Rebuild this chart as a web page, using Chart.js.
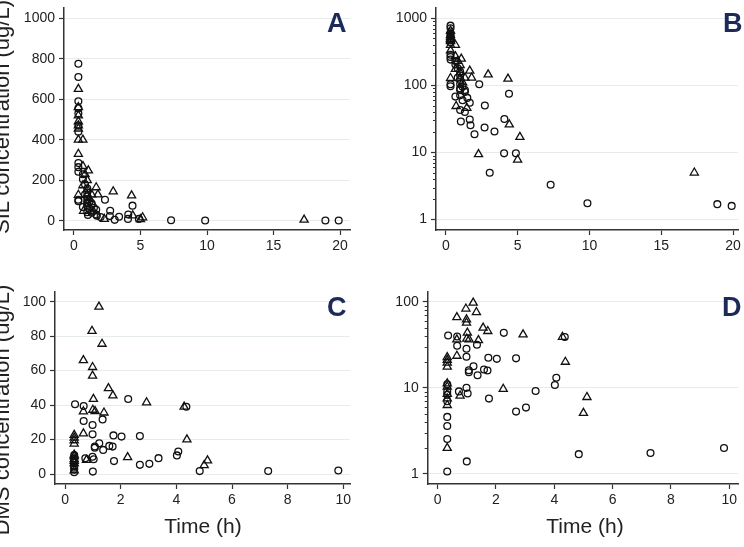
<!DOCTYPE html>
<html><head><meta charset="utf-8">
<script src="https://cdn.jsdelivr.net/npm/chart.js@4.4.1/dist/chart.umd.min.js"></script>
<style>
body{margin:0;background:#fff;width:744px;height:547px;overflow:hidden;position:relative;font-family:"Liberation Sans",Arial,sans-serif;}
.pan{position:absolute;}
.let{position:absolute;font-weight:bold;color:#1c2a57;font-size:27px;line-height:27px;white-space:nowrap;}
.yt{position:absolute;width:320px;height:24px;line-height:24px;text-align:center;font-size:22px;color:#222;transform:translate(-50%,-50%) rotate(-90deg);white-space:nowrap;}
.xt{position:absolute;font-size:21px;line-height:21px;color:#222;transform:translateX(-50%);white-space:nowrap;}
</style></head>
<body>
<div class="pan" style="left:0;top:0"><canvas id="cA" width="372" height="262"></canvas></div>
<div class="pan" style="left:372px;top:0"><canvas id="cB" width="372" height="262"></canvas></div>
<div class="pan" style="left:0;top:270px"><canvas id="cC" width="372" height="250"></canvas></div>
<div class="pan" style="left:372px;top:270px"><canvas id="cD" width="372" height="250"></canvas></div>
<div class="let" style="left:327px;top:10px">A</div>
<div class="let" style="left:723px;top:10px">B</div>
<div class="let" style="left:327px;top:294px">C</div>
<div class="let" style="left:722px;top:294px">D</div>
<div class="yt" style="left:2px;top:117px">SIL concentration (ug/L)</div>
<div class="yt" style="left:2px;top:410px">DMS concentration (ug/L)</div>
<div class="xt" style="left:203px;top:515px">Time (h)</div>
<div class="xt" style="left:585px;top:515px">Time (h)</div>
<script>
// SIL (panels A & B) — circles
const silCircTime = [0.33,0.33,0.33,0.33,0.33,0.33,0.33,0.33,0.33,0.33,0.33,0.33, 0.67,0.67,0.67, 0.83,0.83, 1.0,1.0,1.0,1.0,1.0,1.0,1.0,1.0,1.05, 1.17,1.17, 1.33,1.33,1.33, 1.5,1.67,1.67,1.72, 2.0,2.33,2.72,2.7,3.06,3.39,4.08,4.06,4.4,4.88, 7.3,9.86,18.9,19.9];
const silCircConc = [775,710,590,555,530,470,440,285,265,242,104,97, 230,205,68, 180,130, 160,140,120,105,90,85,71,43,29, 95,60, 85,80,40, 65,55,31,25.5, 18.7,104,50,23.6,5,20.5,31.5,9.7,75,9.7, 3.3,1.75,1.7,1.6];
// SIL — triangles
const silTriTime = [0.33,0.33,0.33,0.33,0.33,0.33,0.33,0.33,0.33, 0.67,0.67,0.67,0.72, 0.83,1.0,1.08,1.0,1.0,1.17, 1.33,1.47, 1.67,1.8, 2.28,2.95,4.33,4.42,5.0,5.16,17.3];
const silTriConc = [650,560,520,490,470,455,400,330,128, 400,270,175,49, 230,200,248,155,130,110, 130,46, 165,130, 9.4,145,125,26,7.8,17,5];
// DMS (panels C & D) — circles
const dmsCircTime = [0.36,0.33,0.33,0.33,0.33,0.33,0.33,0.33,0.33, 0.67,0.67,0.73, 0.99,0.99,0.99,1.03,1.0, 1.07,1.07,1.23,1.37,1.35, 1.59,1.71,1.74,1.76, 2.03,2.27,2.69,2.69,3.03,3.36, 4.02,4.07,4.36,4.84,7.3,9.82];
const dmsCircConc = [40.5,11,9,8.3,7,4.6,3.6,2.55,1.07, 39.5,30.8,9.1, 28.4,23,10,8.6,1.4, 16,15.2,17.8,14,31.7, 16.3,15.9,22.4,7.5, 21.7,43.5,22,5.3,5.9,9.2, 10.8,13.1,39,1.7,1.75,2.0];
// DMS — triangles
const dmsTriTime = [0.33,0.33,0.33,0.33,0.33,0.33,0.33,0.33,0.33,0.33, 0.66,0.66,0.66,0.77, 0.97,0.99,0.99,1.02,1.0,1.08,1.22,1.33,1.4, 1.56,1.72,2.25,2.93,4.28,4.38,5.0,5.12];
const dmsTriConc = [22.6,21,19.5,17.6,11.2,10.3,8.5,7.5,6.3,2.0, 66,36.3,23.5,8.1, 83,62,57,43.5,37.2,36.4,97,75.5,35.6, 49.7,45.5,9.7,41.5,39,20,5.1,7.8];
// tick labels
const xTicksSIL = [0,5,10,15,20];
const xTicksDMS = [0,2,4,6,8,10];
const yTicksA = [0,200,400,600,800,1000];
const yTicksB = [1,10,100,1000];
const yTicksC = [0,20,40,60,80,100];
const yTicksD = [1,10,100];

const FONT = '"Liberation Sans", Arial, sans-serif';
const pts = (t, c) => t.map((x, i) => ({x: x, y: c[i]}));

const minorTicks = {
  id: 'minorTicks',
  afterDraw(chart) {
    const s = chart.scales.y;
    if (s.type !== 'logarithmic') return;
    const ctx = chart.ctx;
    ctx.save();
    ctx.strokeStyle = '#333';
    ctx.lineWidth = 1;
    for (let d = 1; d <= 1000; d *= 10) {
      for (let k = 2; k <= 9; k++) {
        const v = d * k;
        if (v < s.min || v > s.max) continue;
        const y = Math.round(s.getPixelForValue(v)) + 0.5;
        ctx.beginPath();
        ctx.moveTo(s.right - 3, y);
        ctx.lineTo(s.right, y);
        ctx.stroke();
      }
    }
    ctx.restore();
  }
};

function makeChart(id, o) {
  new Chart(document.getElementById(id), {
    type: 'scatter',
    data: {
      datasets: [
        {data: pts(o.ct, o.cc), pointStyle: 'circle', pointRadius: 3.4, pointBorderWidth: 1.3,
         borderColor: '#111', backgroundColor: 'rgba(0,0,0,0)', showLine: false},
        {data: pts(o.tt, o.tc), pointStyle: 'triangle', pointRadius: 4.7, pointBorderWidth: 1.3,
         borderColor: '#111', backgroundColor: 'rgba(0,0,0,0)', showLine: false}
      ]
    },
    options: {
      responsive: false, animation: false, events: [],
      layout: {padding: {left: 0, top: o.T, right: o.R, bottom: 0}},
      plugins: {legend: {display: false}, tooltip: {enabled: false}},
      scales: {
        x: {
          type: 'linear', min: o.xmin, max: o.xmax,
          afterBuildTicks: s => { s.ticks = o.xticks.map(v => ({value: v})); },
          afterFit: s => { s.height = o.H; s.paddingLeft = 0; s.paddingRight = 0; },
          grid: {drawOnChartArea: false, tickLength: 5, tickColor: '#333', tickWidth: 1.2},
          border: {color: '#333', width: 1.5},
          ticks: {font: {family: FONT, size: 14}, color: '#222', padding: 3, maxRotation: 0, autoSkip: false}
        },
        y: {
          type: o.ytype, min: o.ymin, max: o.ymax,
          afterBuildTicks: s => { s.ticks = o.yticks.map(v => ({value: v})); },
          afterFit: s => { s.width = o.L; s.paddingTop = 0; s.paddingBottom = 0; },
          grid: {color: '#e6ebee', lineWidth: 1, tickLength: 5, tickColor: '#333', tickWidth: 1.2},
          border: {color: '#333', width: 1.5},
          ticks: {font: {family: FONT, size: 14}, color: '#222', padding: 4, autoSkip: false,
                  callback: v => String(v)}
        }
      }
    },
    plugins: [minorTicks]
  });
}

makeChart('cA', {ct: silCircTime, cc: silCircConc, tt: silTriTime, tc: silTriConc,
  xmin: -0.75, xmax: 20.75, xticks: xTicksSIL, ytype: 'linear', ymin: -45, ymax: 1050, yticks: yTicksA,
  L: 64, T: 8, R: 22, H: 32});
makeChart('cB', {ct: silCircTime, cc: silCircConc, tt: silTriTime, tc: silTriConc,
  xmin: -0.68, xmax: 20.34, xticks: xTicksSIL, ytype: 'logarithmic', ymin: 0.736, ymax: 1420, yticks: yTicksB,
  L: 64, T: 8, R: 0, H: 32});
makeChart('cC', {ct: dmsCircTime, cc: dmsCircConc, tt: dmsTriTime, tc: dmsTriConc,
  xmin: -0.36, xmax: 10.24, xticks: xTicksDMS, ytype: 'linear', ymin: -5.8, ymax: 105.8, yticks: yTicksC,
  L: 55, T: 21.7, R: 22, H: 36});
makeChart('cD', {ct: dmsCircTime, cc: dmsCircConc, tt: dmsTriTime, tc: dmsTriConc,
  xmin: -0.34, xmax: 10.3, xticks: xTicksDMS, ytype: 'logarithmic', ymin: 0.765, ymax: 130.7, yticks: yTicksD,
  L: 55.7, T: 21.7, R: 0, H: 36});
</script>
</body></html>
